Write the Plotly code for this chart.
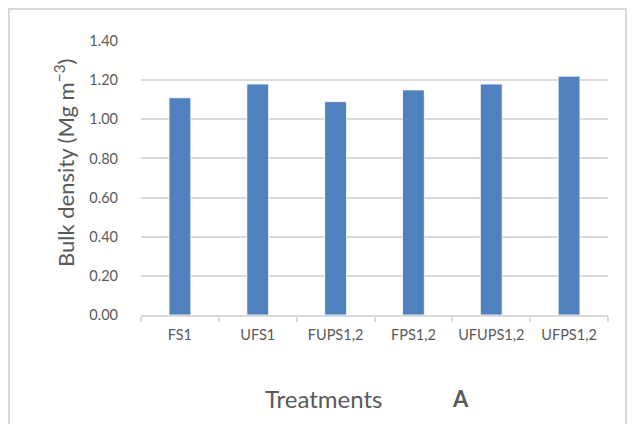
import plotly.graph_objects as go

categories = ["FS1", "UFS1", "FUPS1,2", "FPS1,2", "UFUPS1,2", "UFPS1,2"]
bulk_density = [1.11, 1.18, 1.09, 1.15, 1.18, 1.22]
y_ticks = [0.0, 0.2, 0.4, 0.6, 0.8, 1.0, 1.2, 1.4]

# page offset (browser body margin) compensation
OFF = 8
PL, PR, PT, PB = 141, 608, 41, 315  # plot area in page pixels


def px(x):
    return (x - PL) / (PR - PL)


def py(y):
    return (PB - y) / (PB - PT)


fig = go.Figure()
fig.add_trace(go.Bar(
    x=categories, y=bulk_density,
    marker=dict(color="#4f81bd", line=dict(color="#ffffff", width=0.8)),
    width=0.28,
))

W, H = 635 - OFF, 424 - OFF
fig.update_layout(
    width=W, height=H,
    margin=dict(l=PL - OFF, r=W - (PR - OFF), t=PT - OFF, b=H - (PB - OFF), pad=0),
    paper_bgcolor="white", plot_bgcolor="white",
    font=dict(family="Lato, 'Open Sans', sans-serif", color="#595959", size=12),
    showlegend=False,
)
fig.update_yaxes(
    range=[0, 1.4], tickvals=y_ticks, tickformat=".2f",
    showgrid=True, gridcolor="#d9d9d9", gridwidth=1.5,
    zeroline=False, showline=False, ticks="",
    ticklabelstandoff=22,
    tickfont=dict(size=14.5, color="#595959"),
)
fig.update_xaxes(
    showline=True, linecolor="#d9d9d9", linewidth=1.5,
    ticks="outside", tickson="boundaries", ticklen=5, tickcolor="#d9d9d9", tickwidth=1.5,
    ticklabelstandoff=6, tickangle=0,
    tickfont=dict(size=14.5, color="#595959"),
)

fig.add_annotation(
    text="Bulk density (Mg m<sup>−3</sup>)", textangle=-90,
    xref="paper", yref="paper", x=px(64), y=py(163),
    xanchor="center", yanchor="middle", showarrow=False,
    font=dict(size=22, color="#595959"),
)
fig.add_annotation(
    text="Treatments", xref="paper", yref="paper",
    x=px(323), y=py(398),
    xanchor="center", yanchor="middle", showarrow=False,
    font=dict(size=24, color="#595959"),
)
fig.add_annotation(
    text="<b>A</b>", xref="paper", yref="paper",
    x=px(460), y=py(398),
    xanchor="center", yanchor="middle", showarrow=False,
    font=dict(size=22, color="#595959"),
)
# outer chart border
fig.add_shape(
    type="rect", xref="paper", yref="paper",
    x0=px(9), x1=px(626), y0=py(440), y1=py(9),
    line=dict(color="#d9d9d9", width=2), fillcolor="rgba(0,0,0,0)", layer="below",
)

fig.write_html("out.html")
